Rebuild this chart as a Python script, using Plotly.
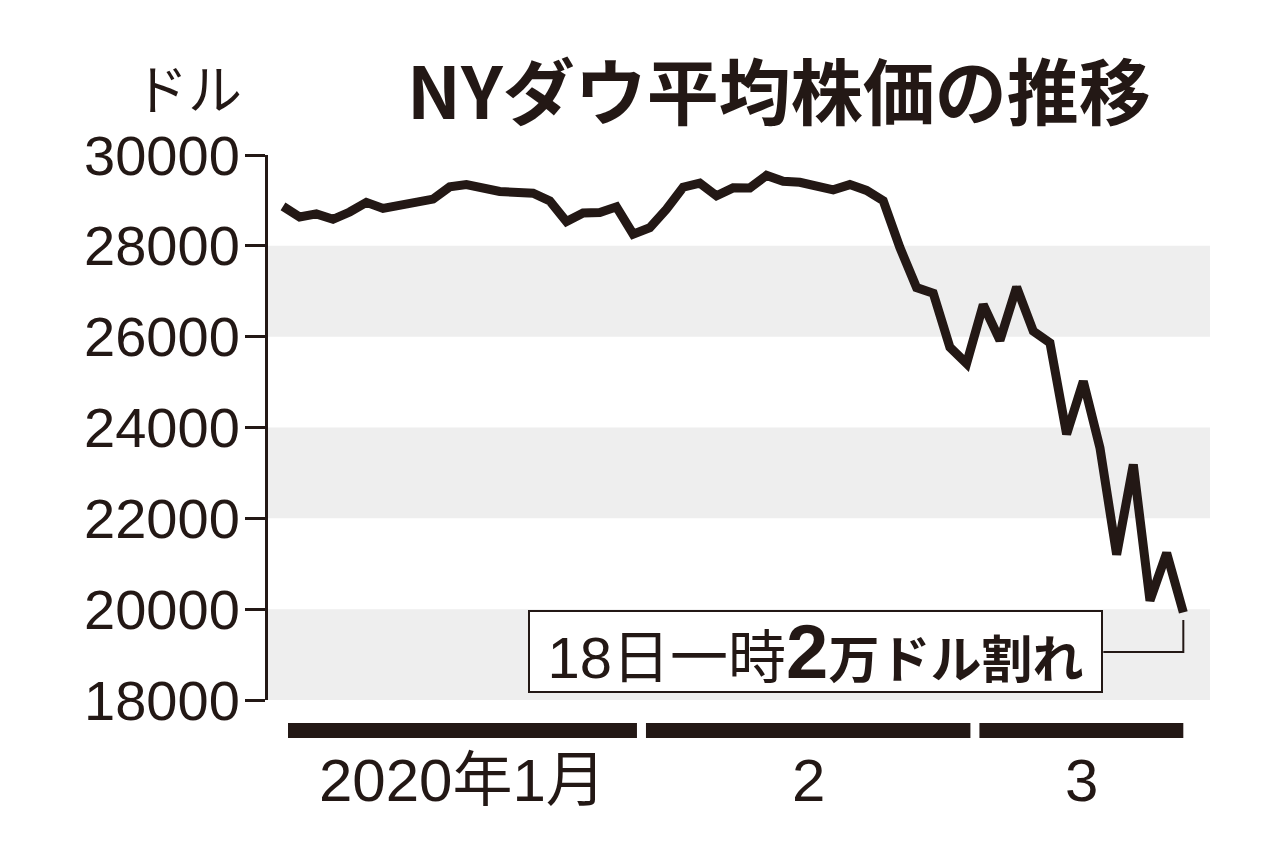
import numpy as np
import plotly.graph_objects as go

# ---- data (NY Dow daily close) ----
dates = [
    "2020-01-02", "2020-01-03", "2020-01-06", "2020-01-07", "2020-01-08", "2020-01-09",
    "2020-01-10", "2020-01-13", "2020-01-14", "2020-01-15", "2020-01-16", "2020-01-17",
    "2020-01-21", "2020-01-22", "2020-01-23", "2020-01-24", "2020-01-27", "2020-01-28",
    "2020-01-29", "2020-01-30", "2020-01-31",
    "2020-02-03", "2020-02-04", "2020-02-05", "2020-02-06", "2020-02-07", "2020-02-10",
    "2020-02-11", "2020-02-12", "2020-02-13", "2020-02-14", "2020-02-18", "2020-02-19",
    "2020-02-20", "2020-02-21", "2020-02-24", "2020-02-25", "2020-02-26", "2020-02-27",
    "2020-02-28",
    "2020-03-02", "2020-03-03", "2020-03-04", "2020-03-05", "2020-03-06", "2020-03-09",
    "2020-03-10", "2020-03-11", "2020-03-12", "2020-03-13", "2020-03-16", "2020-03-17",
    "2020-03-18",
]
dow = [
    28869, 28635, 28703, 28584, 28745, 28957,
    28824, 28907, 28940, 29030, 29298, 29348,
    29196, 29186, 29160, 28990, 28536, 28723,
    28734, 28859, 28256,
    28400, 28808, 29291, 29380, 29103, 29277,
    29276, 29551, 29423, 29398, 29232, 29348,
    29220, 28992, 27961, 27081, 26958, 25767,
    25409,
    26703, 25917, 27091, 26121, 25865, 23851,
    25018, 23553, 21201, 23186, 20189, 21237,
    19930,
]
month_labels = ["2020年1月", "2", "3"]
month_keys = ["2020-01", "2020-02", "2020-03"]
y_ticks = [18000, 20000, 22000, 24000, 26000, 28000, 30000]
band_pairs = [(18000, 20000), (22000, 24000), (26000, 28000)]
y_unit = "ドル"
title_text = "NYダウ平均株価の推移"
note_plain = "18日一時"
note_big = "2"
note_rest = "万ドル割れ"

INK = "#231815"
BAND = "#eeeeee"
LAT = "Liberation Sans, Noto Sans CJK JP, sans-serif"
CJK = "Noto Sans CJK JP, sans-serif"

# page body has an 8px offset; plot area target: x 268..1210, y 155..700
OFF = 8
L, T, R, B = 268, 155, 1210, 700
W, H = 1280, 864

def px(xp):
    return (xp - L) / (R - L)

def py(yp):
    return (B - yp) / (B - T)

# weekday index for x (weekends removed, holidays keep their slot)
x = np.busday_count(dates[0], np.array(dates, dtype="datetime64[D]")).astype(float)

fig = go.Figure()
fig.add_trace(go.Scatter(
    x=x, y=dow, mode="lines",
    line=dict(color=INK, width=9), hoverinfo="skip", showlegend=False,
))

shapes = []
for lo, hi in band_pairs:
    shapes.append(dict(type="rect", xref="paper", yref="y", x0=0, x1=1, y0=lo, y1=hi,
                       fillcolor=BAND, line=dict(width=0), layer="below"))

annotations = []
d_arr = np.array(dates)
for key, lab in zip(month_keys, month_labels):
    sel = x[[d.startswith(key) for d in d_arr]]
    x0 = max(sel.min() - 0.23, x[0] + 0.3)
    x1 = min(sel.max() + 0.23, x[-1])
    shapes.append(dict(type="rect", xref="x", yref="paper", x0=x0, x1=x1,
                       y0=py(738), y1=py(723), fillcolor=INK, line=dict(width=0)))
    annotations.append(dict(xref="x", yref="paper", x=(x0 + x1) / 2, y=py(780),
                            text=lab, showarrow=False, xanchor="center", yanchor="middle",
                            font=dict(family=LAT, size=60, color=INK)))

# connector from note box to the last point
x_last = x[-1]
x_box_edge = (1103 - 283) / (1183 - 283) * x_last
shapes.append(dict(type="path", xref="x", yref="y",
                   path=f"M {x_box_edge},19057 L {x_last},19057 L {x_last},19760",
                   line=dict(color=INK, width=2)))

annotations.append(dict(
    xref="paper", yref="paper", x=px(1103), y=py(651.5),
    xanchor="right", yanchor="middle", showarrow=False,
    text=(f"{note_plain}<b><span style='font-size:76px'>{note_big}</span>"
          f"<span style='font-size:51px'>{note_rest}</span></b>"),
    font=dict(family=LAT, size=58, color=INK),
    width=565, height=73, align="center", valign="middle",
    bgcolor="white", bordercolor=INK, borderwidth=2, borderpad=3,
))
annotations.append(dict(
    xref="paper", yref="paper", x=px(405), y=py(88),
    xanchor="left", yanchor="middle", showarrow=False,
    text=f"<b>{title_text}</b>", font=dict(family=CJK, size=72, color=INK),
))
annotations.append(dict(
    xref="paper", yref="paper", x=px(244), y=py(86),
    xanchor="right", yanchor="middle", showarrow=False,
    text=y_unit, font=dict(family=CJK, size=54, color=INK),
))

fig.update_layout(
    width=W, height=H,
    margin=dict(l=L - OFF, r=W + OFF - R, t=T - OFF, b=H + OFF - B),
    paper_bgcolor="white", plot_bgcolor="white",
    shapes=shapes, annotations=annotations,
    xaxis=dict(visible=False, range=[-0.9, 55.6]),
    yaxis=dict(range=[18000, 30000], tickvals=y_ticks, ticktext=[str(v) for v in y_ticks],
               showgrid=False, zeroline=False, showline=True, linecolor=INK, linewidth=3,
               ticks="outside", ticklen=20, tickwidth=3, tickcolor=INK,
               ticklabelstandoff=-6,
               tickfont=dict(family=LAT, size=56, color=INK)),
)

fig.write_html("out.html")
